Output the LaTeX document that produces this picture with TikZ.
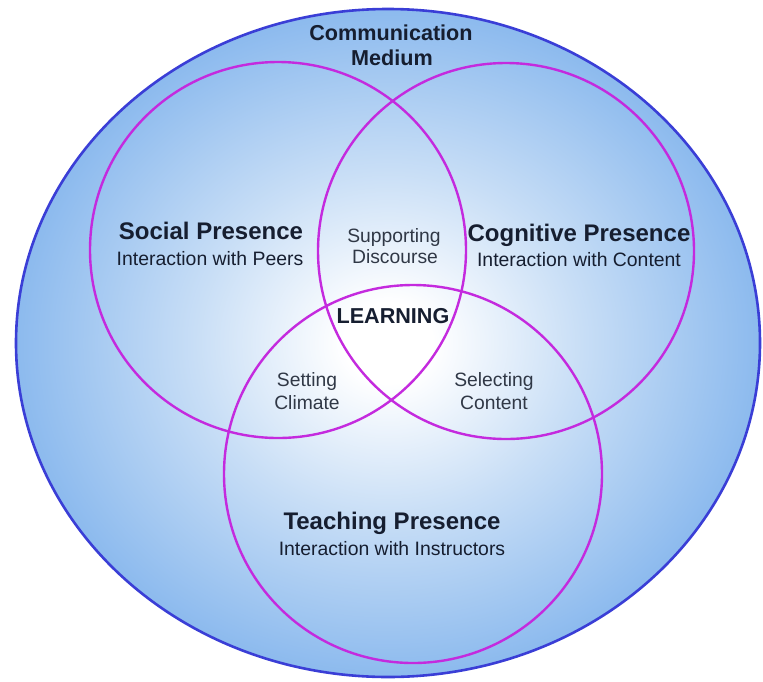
\documentclass[tikz,border=0pt]{standalone}
\usepackage{fontspec}
\setmainfont{Liberation Sans}
\usepackage{xcolor}
\usepackage{tikz}
\usetikzlibrary{positioning,shapes.geometric}

\definecolor{rimblue}{RGB}{58,62,214}
\definecolor{edgeblue}{RGB}{140,186,238}
\definecolor{midblue}{RGB}{200,222,246}
\definecolor{ringpink}{RGB}{196,42,222}
\definecolor{inkblue}{RGB}{22,30,48}
\definecolor{softink}{RGB}{48,56,70}
\pgfdeclareradialshading{mediumshade}{\pgfpointorigin}{color(0bp)=(white); color(3bp)=(white); color(13bp)=(midblue); color(25bp)=(edgeblue); color(50bp)=(edgeblue)}

\begin{document}
\begin{tikzpicture}[
  x=1pt, y=-1pt,
  medium/.style={ellipse, draw=rimblue, line width=2.6pt, shading=mediumshade, minimum width=744pt, minimum height=668pt, inner sep=0pt},
  ring/.style={circle, draw=ringpink, line width=2.4pt, minimum size=#1, inner sep=0pt},
  head/.style={font=\fontsize{24}{28}\selectfont\bfseries, text=inkblue, anchor=base, inner sep=0pt},
  sub/.style={font=\fontsize{19.4}{23}\selectfont, text=inkblue, anchor=base, inner sep=0pt},
  keyword/.style={font=\fontsize{21.6}{25}\selectfont\bfseries, text=inkblue, anchor=base, inner sep=0pt},
  soft/.style={font=\fontsize{19.3}{23}\selectfont, text=softink, anchor=base, inner sep=0pt}
]
\useasboundingbox (0,0) rectangle (763,681);
\node[medium] (medium) at (388,343) {};
\node[ring=376pt] (social) at (278,250) {};
\node[ring=376pt] (cognitive) at (506,251) {};
\node[ring=378pt] (teaching) at (413,474) {};
% labels
\node[keyword] (comm) at (391,40) {Communication};
\node[keyword] (mediumtxt) at (392,65) {Medium};
\node[head] (socialhead) at (211,239) {Social Presence};
\node[sub] (socialsub) at (210,265) {Interaction with Peers};
\node[head] (coghead) at (579,241) {Cognitive Presence};
\node[sub] (cogsub) at (579,266) {Interaction with Content};
\node[head] (teachhead) at (392,529) {Teaching Presence};
\node[sub] (teachsub) at (392,555) {Interaction with Instructors};
\node[soft] (supp) at (394,242) {Supporting};
\node[soft] (disc) at (395,263) {Discourse};
\node[keyword] (learn) at (393,323) {LEARNING};
\node[soft] (sett) at (307,386) {Setting};
\node[soft] (clim) at (307,409) {Climate};
\node[soft] (sel) at (494,386) {Selecting};
\node[soft] (cont) at (494,409) {Content};
\end{tikzpicture}
\end{document}
